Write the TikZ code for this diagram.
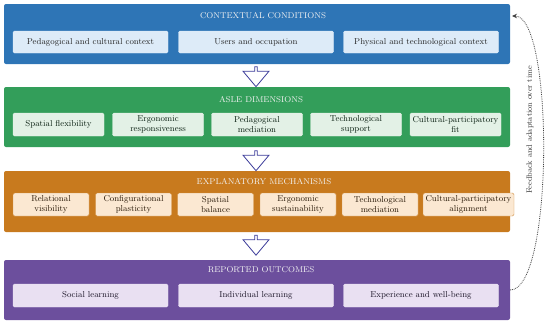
\documentclass[tikz,border=0pt]{standalone}
\usepackage{tikz}
\usetikzlibrary{arrows.meta,shapes.arrows}
\definecolor{ctxblue}{HTML}{2E75B6}
\definecolor{dimgreen}{HTML}{339E5A}
\definecolor{mechorange}{HTML}{C87A1E}
\definecolor{outpurple}{HTML}{6C4F9D}
\definecolor{ctxlight}{HTML}{DDEBF8}
\definecolor{dimlight}{HTML}{E3F1E6}
\definecolor{mechlight}{HTML}{FBE8D2}
\definecolor{outlight}{HTML}{E9E0F2}
\definecolor{flowblue}{HTML}{3C3C9A}

\begin{document}
\begin{tikzpicture}[x=1pt, y=-1pt,
		every node/.style={font=\fontsize{8.6}{10}\selectfont, align=center},
		panel/.style={rounded corners=2pt, minimum width=506pt, minimum height=60pt, inner sep=0pt},
		title/.style={text=white!95!black, font=\fontsize{8.4}{10}\selectfont},
		item/.style={rounded corners=1.5pt, inner sep=0pt, minimum height=23pt, line width=0.4pt},
		flow/.style={single arrow, shape border rotate=270, draw=flowblue, fill=white, line width=0.8pt,
			minimum height=20pt, minimum width=26pt, single arrow head extend=4pt, single arrow tip angle=80, inner sep=0pt},
		fb/.style={densely dotted, draw=black!75, line width=0.8pt, -{Stealth[length=5pt, width=4.5pt]}}]
	\useasboundingbox (0,0) rectangle (550,324);

	\node[panel, fill=ctxblue] (ctx) at (257,34) {};
	\node[panel, fill=dimgreen] (dim) at (257,117) {};
	\node[panel, fill=mechorange, minimum height=61pt] (mech) at (257,201.5) {};
	\node[panel, fill=outpurple] (out) at (257,290) {};

	\node[title] (ctxt) at (263,16) {CONTEXTUAL CONDITIONS};
	\node[title] (dimt) at (261,100) {ASLE DIMENSIONS};
	\node[title] (mecht) at (264,182) {EXPLANATORY MECHANISMS};
	\node[title] (outt) at (261,270) {REPORTED OUTCOMES};

	\node[item, fill=ctxlight, draw=ctxlight, text=black!85, minimum width=155pt, minimum height=22pt] (ctx1) at (90.5,42) {Pedagogical and cultural context};
	\node[item, fill=ctxlight, draw=ctxlight, text=black!85, minimum width=155pt, minimum height=22pt] (ctx2) at (256,42) {Users and occupation};
	\node[item, fill=ctxlight, draw=ctxlight, text=black!85, minimum width=155pt, minimum height=22pt] (ctx3) at (421,42) {Physical and technological context};

	\node[item, fill=dimlight, draw=dimlight, text=black!80!dimgreen, minimum width=91pt] (dim1) at (58.5,124.5) {Spatial flexibility};
	\node[item, fill=dimlight, draw=dimlight, text=black!80!dimgreen, minimum width=91pt] (dim2) at (158,124.5) {Ergonomic\\responsiveness};
	\node[item, fill=dimlight, draw=dimlight, text=black!80!dimgreen, minimum width=91pt] (dim3) at (257,124.5) {Pedagogical\\mediation};
	\node[item, fill=dimlight, draw=dimlight, text=black!80!dimgreen, minimum width=91pt] (dim4) at (356,124.5) {Technological\\support};
	\node[item, fill=dimlight, draw=dimlight, text=black!80!dimgreen, minimum width=91pt] (dim5) at (455.5,124.5) {Cultural-participatory\\fit};

	\node[item, fill=mechlight, draw=mechorange!80!white, text=black!80!mechorange, minimum width=76pt] (mech1) at (51,204.5) {Relational\\visibility};
	\node[item, fill=mechlight, draw=mechorange!80!white, text=black!80!mechorange, minimum width=76pt] (mech2) at (133.5,204.5) {Configurational\\plasticity};
	\node[item, fill=mechlight, draw=mechorange!80!white, text=black!80!mechorange, minimum width=76pt] (mech3) at (215.5,204.5) {Spatial\\balance};
	\node[item, fill=mechlight, draw=mechorange!80!white, text=black!80!mechorange, minimum width=76pt] (mech4) at (298,204.5) {Ergonomic\\sustainability};
	\node[item, fill=mechlight, draw=mechorange!80!white, text=black!80!mechorange, minimum width=76pt] (mech5) at (380,204.5) {Technological\\mediation};
	\node[item, fill=mechlight, draw=mechorange!80!white, text=black!80!mechorange, minimum width=91pt] (mech6) at (468.5,204.5) {Cultural-participatory\\alignment};

	\node[item, fill=outlight, draw=outlight, text=black!75!outpurple, minimum width=155pt] (out1) at (90.5,295.5) {Social learning};
	\node[item, fill=outlight, draw=outlight, text=black!75!outpurple, minimum width=155pt] (out2) at (256,295.5) {Individual learning};
	\node[item, fill=outlight, draw=outlight, text=black!75!outpurple, minimum width=155pt] (out3) at (421,295.5) {Experience and well-being};

	\node[flow] (a1) at (256,76) {};
	\node[flow] (a2) at (256,160) {};
	\node[flow] (a3) at (256,244.5) {};

	\coordinate (back) at (512,16);
	\draw[fb] (out.east) .. controls (554,290) and (554,16) .. (back);
	\node[rotate=90, text=black!80, font=\fontsize{7.8}{9}\selectfont] (fbl) at (530,130) {Feedback and adaptation over time};
\end{tikzpicture}
\end{document}
